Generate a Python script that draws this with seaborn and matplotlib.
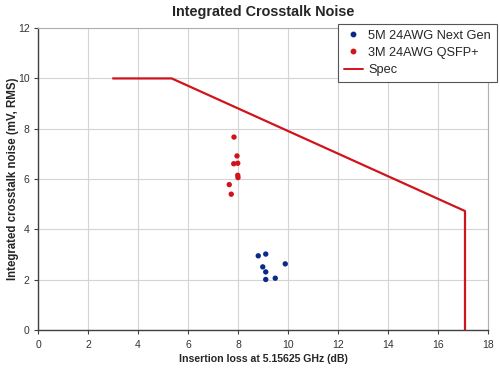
import matplotlib
matplotlib.use("Agg")
import matplotlib.pyplot as plt
import numpy as np
import pandas as pd
import seaborn as sns

# data
next_gen_x = [8.81, 9.11, 8.99, 9.11, 9.89, 9.11, 9.49]
next_gen_y = [2.95, 3.02, 2.51, 2.31, 2.63, 2.01, 2.06]
qsfp_x = [7.84, 7.96, 7.83, 7.99, 7.99, 8.00, 7.65, 7.73]
qsfp_y = [7.67, 6.92, 6.61, 6.63, 6.15, 6.06, 5.78, 5.40]
spec_x = [3.0, 5.35, 17.08, 17.08]
spec_y = [10.0, 10.0, 4.73, 0.0]

series_names = ["5M 24AWG Next Gen", "3M 24AWG QSFP+", "Spec"]
blue = "#0a2a8a"
red = "#d0141c"

sns.set_style("white")
plt.rcParams["font.family"] = ["Liberation Sans", "DejaVu Sans"]

points = pd.concat([
    pd.DataFrame({"x": next_gen_x, "y": next_gen_y, "series": series_names[0]}),
    pd.DataFrame({"x": qsfp_x, "y": qsfp_y, "series": series_names[1]}),
])
spec = pd.DataFrame({"x": spec_x, "y": spec_y, "series": series_names[2]})

fig = plt.figure(figsize=(5, 3.7), dpi=100)
ax = fig.add_axes([0.076, 0.108, 0.9, 0.816])

# estimator=None so the vertical end of the spec line is kept as drawn
sns.lineplot(data=spec, x="x", y="y", sort=False, estimator=None, color=red,
             linewidth=1.6, ax=ax, legend=False, zorder=2)
sns.scatterplot(data=points, x="x", y="y", hue="series",
                palette={series_names[0]: blue, series_names[1]: red},
                s=15, linewidth=0, ax=ax, legend=False, zorder=3)

ax.set_xlim(0, 18)
ax.set_ylim(0, 12)
ax.set_xticks(np.arange(0, 19, 2))
ax.set_yticks(np.arange(0, 13, 2))
ax.grid(True, color="#d4d4d4", linewidth=0.8)
ax.set_axisbelow(True)
for side in ["top", "right"]:
    ax.spines[side].set_color("#b0b0b0")
    ax.spines[side].set_linewidth(0.8)
for side in ["left", "bottom"]:
    ax.spines[side].set_color("#404040")
    ax.spines[side].set_linewidth(1.0)
ax.tick_params(axis="both", labelsize=7.5, labelcolor="#333333", length=3,
               width=0.8, color="#404040", direction="out")
ax.tick_params(axis="x", pad=4)
ax.tick_params(axis="y", pad=3)
ax.tick_params(axis="both", bottom=True, left=True)

ax.set_xlabel("Insertion loss at 5.15625 GHz (dB)", fontsize=7.6, fontweight="bold")
ax.xaxis.set_label_coords(0.5, -0.078)
ax.set_ylabel("Integrated crosstalk noise (mV, RMS)", fontsize=8.3, fontweight="bold")
ax.yaxis.set_label_coords(-0.042, 0.5)
ax.set_title("Integrated Crosstalk Noise", fontsize=10.4, fontweight="bold", pad=9)

handles = [
    plt.Line2D([], [], marker="o", linestyle="none", color=blue, markersize=3.2),
    plt.Line2D([], [], marker="o", linestyle="none", color=red, markersize=3.2),
    plt.Line2D([], [], color=red, linewidth=1.4),
]
leg = fig.legend(handles, series_names, loc="upper left",
                 bbox_to_anchor=(0.676, 0.935), fontsize=9.2, frameon=True,
                 fancybox=False, framealpha=1, edgecolor="#555555",
                 handlelength=1.5, handletextpad=0.4, borderpad=0.45,
                 borderaxespad=0, labelspacing=0.4)
leg.get_frame().set_linewidth(0.8)

fig.savefig("out.png", dpi=100)
